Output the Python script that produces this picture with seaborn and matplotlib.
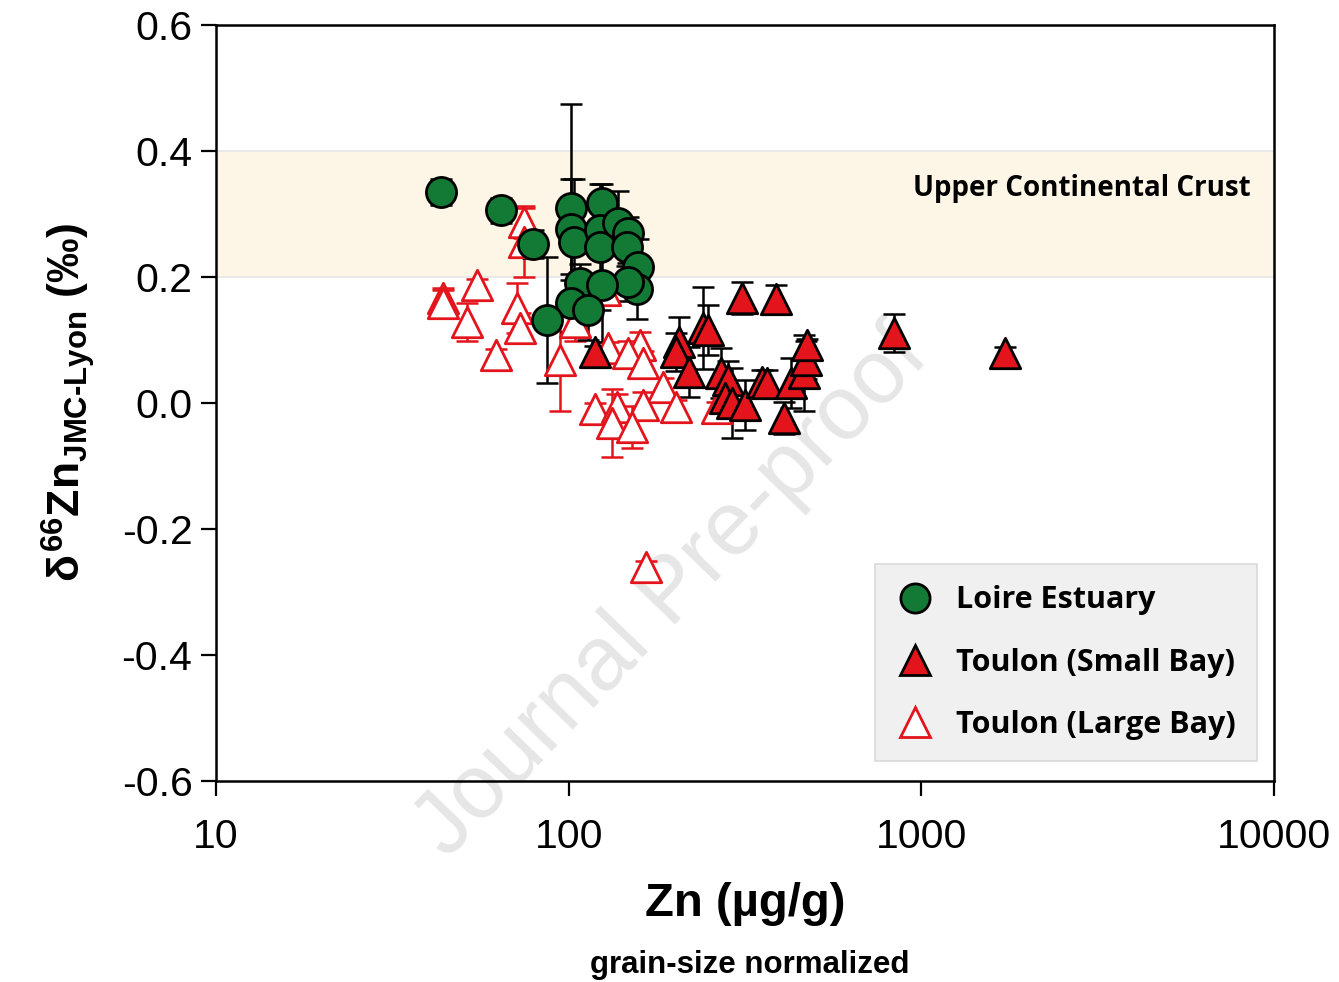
import numpy as np
import pandas as pd
import matplotlib
matplotlib.use("Agg")
import matplotlib.pyplot as plt
import seaborn as sns
from matplotlib.lines import Line2D

# ---------------- data ----------------
loire_zn = [43.4, 64.2, 79.1, 101.3, 101.3, 103.3, 124.0, 122.4, 122.4, 137.7,
            146.9, 146.3, 156.8, 156.4, 146.9, 107.4, 124.0, 101.3, 113.2, 86.6]
loire_d66 = [0.335, 0.306, 0.252, 0.309, 0.276, 0.255, 0.317, 0.275, 0.248, 0.286,
             0.270, 0.248, 0.216, 0.181, 0.192, 0.190, 0.187, 0.159, 0.148, 0.132]
loire_err = [0.02, 0.02, 0.022, 0.166, 0.08, 0.10, 0.03, 0.03, 0.10, 0.05,
             0.025, 0.03, 0.045, 0.048, 0.03, 0.03, 0.09, 0.046, 0.048, 0.10]

small_zn = [118.6, 206, 201, 220, 240, 248, 271, 283, 277, 290, 317,
            311, 388, 354, 364, 409, 428, 466, 472, 475, 834, 1729]
small_d66 = [0.081, 0.097, 0.081, 0.049, 0.119, 0.116, 0.048, 0.037, 0.008, 0.000, -0.003,
             0.167, 0.165, 0.033, 0.032, -0.024, 0.032, 0.048, 0.068, 0.092, 0.111, 0.079]
small_err = [0.01, 0.04, 0.03, 0.04, 0.065, 0.04, 0.04, 0.03, 0.03, 0.055, 0.04,
             0.025, 0.022, 0.02, 0.02, 0.025, 0.04, 0.06, 0.03, 0.01, 0.03, 0.01]

large_zn = [44.0, 44.0, 54.8, 51.4, 62.1, 71.3, 72.7, 74.6, 74.6, 94.8, 104, 126.5, 129,
            118.6, 159, 147, 162, 185, 202, 162, 137, 133, 151, 264, 166]
large_d66 = [0.167, 0.159, 0.187, 0.129, 0.076, 0.151, 0.119, 0.287, 0.255, 0.068, 0.129,
             0.179, 0.087, -0.010, 0.092, 0.079, 0.063, 0.025, -0.006, -0.003, -0.006,
             -0.032, -0.038, -0.008, -0.260]
large_err = [0.015, 0.02, 0.01, 0.03, 0.01, 0.04, 0.024, 0.025, 0.055, 0.08, 0.03,
             0.02, 0.01, 0.01, 0.02, 0.02, 0.02, 0.015, 0.01, 0.02, 0.02,
             0.054, 0.033, 0.01, 0.01]

series_labels = ["Loire Estuary", "Toulon (Small Bay)", "Toulon (Large Bay)"]
x_ticks = [10, 100, 1000, 10000]
y_ticks = [-0.6, -0.4, -0.2, 0.0, 0.2, 0.4, 0.6]
ucc_band = (0.2, 0.4)

# ---------------- style ----------------
sns.set_theme(style="ticks")
plt.rcParams["font.family"] = ["Liberation Sans", "DejaVu Sans"]
plt.rcParams["text.color"] = "black"
plt.rcParams["axes.labelcolor"] = "black"
plt.rcParams["xtick.color"] = "black"
plt.rcParams["ytick.color"] = "black"
plt.rcParams["mathtext.fontset"] = "custom"
plt.rcParams["mathtext.rm"] = "Liberation Sans:bold"
plt.rcParams["mathtext.bf"] = "Liberation Sans:bold"
plt.rcParams["mathtext.it"] = "Liberation Sans:bold"

fig = plt.figure(figsize=(13.39, 9.82), dpi=100)
ax = fig.add_axes([216/1339, 1-781/982, (1274-216)/1339, (781-25)/982])

GREEN = "#137A36"
RED = "#E3141B"

# band
ax.axhspan(ucc_band[0], ucc_band[1], facecolor="#FDF5E6", edgecolor="none", zorder=0)
for yb in ucc_band:
    ax.axhline(yb, color="#E6E6E6", lw=1.2, zorder=0.5)

# watermark (under the data marks)
ax.text(0.502, 0.396, "Journal Pre-proof", rotation=46, fontsize=65, color="#E6E6E6",
        ha="center", va="center", family=["Liberation Sans", "DejaVu Sans"],
        transform=fig.transFigure, zorder=1, clip_on=False)

def draw(xs, ys, es, ecol, zbase):
    ax.errorbar(xs, ys, yerr=es, fmt="none", ecolor=ecol, elinewidth=1.8,
                capsize=8, capthick=1.8, zorder=zbase)

draw(large_zn, large_d66, large_err, RED, 2)
draw(small_zn, small_d66, small_err, "black", 2.1)
draw(loire_zn, loire_d66, loire_err, "black", 2.2)

df_large = pd.DataFrame({"zn": large_zn, "d66": large_d66})
df_small = pd.DataFrame({"zn": small_zn, "d66": small_d66})
df_loire = pd.DataFrame({"zn": loire_zn, "d66": loire_d66})

sns.scatterplot(data=df_large, x="zn", y="d66", ax=ax, marker="^", s=480,
                facecolor="white", edgecolor=RED, linewidth=2.0, zorder=3, legend=False)
sns.scatterplot(data=df_small, x="zn", y="d66", ax=ax, marker="^", s=480,
                facecolor=RED, edgecolor="black", linewidth=2.0, zorder=3.1, legend=False)
sns.scatterplot(data=df_loire, x="zn", y="d66", ax=ax, marker="o", s=470,
                facecolor=GREEN, edgecolor="black", linewidth=2.0, zorder=3.2, legend=False)

ax.set_xscale("log")
ax.set_xlim(10, 10000)
ax.set_ylim(-0.6, 0.6)
ax.set_xticks(x_ticks)
ax.set_xticklabels([str(t) for t in x_ticks])
ax.xaxis.set_minor_locator(matplotlib.ticker.NullLocator())
ax.set_yticks(y_ticks)
ax.set_yticklabels([f"{t:.1f}" for t in y_ticks])
ax.tick_params(axis="both", which="major", labelsize=29.5, length=11, width=1.6,
               direction="out", color="black", labelcolor="black")
ax.tick_params(axis="x", pad=16)
ax.tick_params(axis="y", pad=6)
for sp in ax.spines.values():
    sp.set_linewidth(1.8)
    sp.set_color("black")
    sp.set_visible(True)

ax.set_xlabel("Zn (µg/g)", fontsize=34, fontweight="bold", labelpad=18, color="black")
ax.set_ylabel(r"$\delta^{66}$Zn$_{\mathregular{JMC\text{-}Lyon}}$ (‰)", fontsize=32,
              fontweight="bold", labelpad=18, color="black")
fig.text((590+910)/2/1339, 1-965/982, "grain-size normalized", fontsize=22.5,
         fontweight="bold", ha="center", va="center", color="black")

ax.text((1251-216)/1058, 0.340, "Upper Continental Crust", transform=ax.get_yaxis_transform(),
        fontsize=20, fontweight="bold", family=["Open Sans", "DejaVu Sans"],
        ha="right", va="center", color="black")

handles = [
    Line2D([], [], marker="o", ls="none", markersize=21, markerfacecolor=GREEN,
           markeredgecolor="black", markeredgewidth=2),
    Line2D([], [], marker="^", ls="none", markersize=21, markerfacecolor=RED,
           markeredgecolor="black", markeredgewidth=2),
    Line2D([], [], marker="^", ls="none", markersize=21, markerfacecolor="white",
           markeredgecolor=RED, markeredgewidth=2),
]
leg = ax.legend(handles, series_labels, loc="lower right",
                bbox_to_anchor=((1257-216)/1058, (781-761)/756),
                frameon=True, fancybox=False, facecolor="#F0F0F0", edgecolor="#DADADA",
                prop={"family": ["Open Sans", "DejaVu Sans"], "weight": "bold", "size": 22},
                handletextpad=0.75, labelspacing=1.05, borderpad=0.7, handlelength=1.2,
                framealpha=1, borderaxespad=0)
leg.get_frame().set_linewidth(1.2)
leg.set_zorder(5)

fig.savefig("out.png", dpi=100)
